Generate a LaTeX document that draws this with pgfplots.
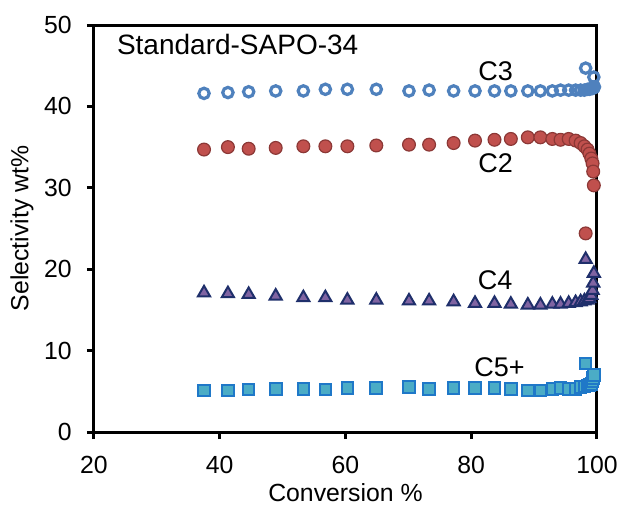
\documentclass[border=0pt]{standalone}
\usepackage{fontspec}
\setmainfont{Liberation Sans}
\usepackage{pgfplots}
\pgfplotsset{compat=1.18}
\usepackage{pgfplotstable}
\definecolor{cthree}{HTML}{4F81BD}
\definecolor{ctwo}{HTML}{C0504D}
\definecolor{ctwoedge}{HTML}{8C3836}
\definecolor{cfour}{HTML}{8064A2}
\definecolor{cfouredge}{HTML}{1F2F6B}
\definecolor{cfive}{HTML}{4BACC6}
\definecolor{cfiveedge}{HTML}{1F78C8}
\pgfplotstableread{
x y
37.5 41.6
41.3 41.7
44.6 41.8
48.9 41.9
53.3 41.9
56.8 42.1
60.3 42.1
64.9 42.1
70.1 41.9
73.3 42.0
77.2 41.9
80.6 41.9
83.7 41.9
86.3 41.9
89.0 41.9
91.0 41.9
92.9 41.9
94.2 42.0
95.5 42.0
96.6 42.0
97.4 42.0
98.0 42.0
98.5 42.1
98.8 42.1
99.1 42.2
99.3 42.2
99.4 42.3
99.5 42.3
99.6 42.4
98.2 44.7
99.5 43.6
}\cthreetab
\pgfplotstableread{
x y
37.5 34.7
41.3 35.0
44.6 34.8
48.9 34.9
53.3 35.1
56.8 35.1
60.3 35.1
64.9 35.2
70.1 35.3
73.3 35.3
77.2 35.5
80.6 35.8
83.7 35.9
86.3 36.0
89.0 36.2
91.0 36.2
92.9 36.0
94.2 35.9
95.5 36.0
96.6 35.8
97.4 35.5
98.0 35.1
98.5 34.7
98.8 34.2
99.1 33.6
99.3 33.0
99.4 32.0
99.5 30.3
98.2 24.4
}\ctwotab
\pgfplotstableread{
x y
37.5 17.1
41.3 17.0
44.6 16.9
48.9 16.7
53.3 16.5
56.8 16.5
60.3 16.2
64.9 16.2
70.1 16.1
73.3 16.1
77.2 16.0
80.6 15.8
83.7 15.8
86.3 15.7
89.0 15.6
91.0 15.6
92.9 15.7
94.2 15.7
95.5 15.8
96.6 15.9
97.4 16.0
98.0 16.1
98.5 16.2
98.8 16.4
99.1 16.8
99.3 17.4
99.4 18.3
99.5 19.5
98.2 21.2
}\cfourtab
\pgfplotstableread{
x y
37.5 5.1
41.3 5.1
44.6 5.2
48.9 5.3
53.3 5.3
56.8 5.2
60.3 5.4
64.9 5.4
70.1 5.5
73.3 5.3
77.2 5.4
80.6 5.4
83.7 5.4
86.3 5.3
89.0 5.1
91.0 5.1
92.9 5.3
94.2 5.4
95.5 5.3
96.6 5.3
97.4 5.5
98.0 5.6
98.5 5.7
98.8 5.8
99.1 5.9
99.3 6.2
99.4 6.6
99.5 7.0
98.2 8.4
}\cfivetab
\begin{document}
\begin{tikzpicture}
\begin{axis}[
  name=ax, at={(0,0)}, anchor=south west,
  scale only axis, width=251.5pt, height=203.5pt,
  xmin=20, xmax=100, ymin=0, ymax=50,
  xtick={20,40,60,80,100}, ytick={0,10,20,30,40,50},
  xtick pos=left, ytick pos=left,
  tick align=outside, major tick length=3.5pt,
  axis line style={line width=1.5pt, black},
  tick style={line width=1.5pt, black},
  clip=false,
  /pgf/number format/assume math mode=true,
  tick label style={font=\fontsize{12.4}{14}\selectfont, inner sep=0pt},
  xticklabel style={anchor=base, yshift=-17pt},
  yticklabel style={anchor=east, xshift=-7.5pt},
  xlabel={Conversion \%},
  ylabel={Selectivity wt\%},
  every axis x label/.style={at={(axis description cs:0.5,0)}, anchor=center, yshift=-30.5pt, font=\fontsize{12.4}{14}\selectfont},
  every axis y label/.style={at={(axis description cs:0,0.5)}, anchor=center, xshift=-36pt, rotate=90, font=\fontsize{12.4}{14}\selectfont},
]
\addplot[only marks, mark=o, mark size=2.6pt, mark options={draw=cthree, line width=1.6pt}] table[x=x,y=y] {\cthreetab};
\addplot[only marks, mark=*, mark size=3.2pt, mark options={fill=ctwo, draw=ctwoedge, line width=0.6pt}] table[x=x,y=y] {\ctwotab};
\addplot[only marks, mark=triangle*, mark size=3.5pt, mark options={fill=cfour, draw=cfouredge, line width=1pt}] table[x=x,y=y] {\cfourtab};
\addplot[only marks, mark=square*, mark size=2.9pt, mark options={fill=cfive, draw=cfiveedge, line width=1pt}] table[x=x,y=y] {\cfivetab};
\node[anchor=west, inner sep=0pt, font=\fontsize{14}{16}\selectfont] at (axis cs:23.6,47.6) {Standard-SAPO-34};
\node[inner sep=0pt, font=\fontsize{13.5}{15}\selectfont] at (axis cs:83.9,44.3) {C3};
\node[inner sep=0pt, font=\fontsize{13.5}{15}\selectfont] at (axis cs:83.9,33.0) {C2};
\node[inner sep=0pt, font=\fontsize{13.5}{15}\selectfont] at (axis cs:83.8,18.7) {C4};
\node[inner sep=0pt, font=\fontsize{13.5}{15}\selectfont] at (axis cs:84.5,8.0) {C5+};
\end{axis}
\pgfresetboundingbox
\path (-47pt,-39pt) rectangle (264pt,216pt);
\end{tikzpicture}
\end{document}
